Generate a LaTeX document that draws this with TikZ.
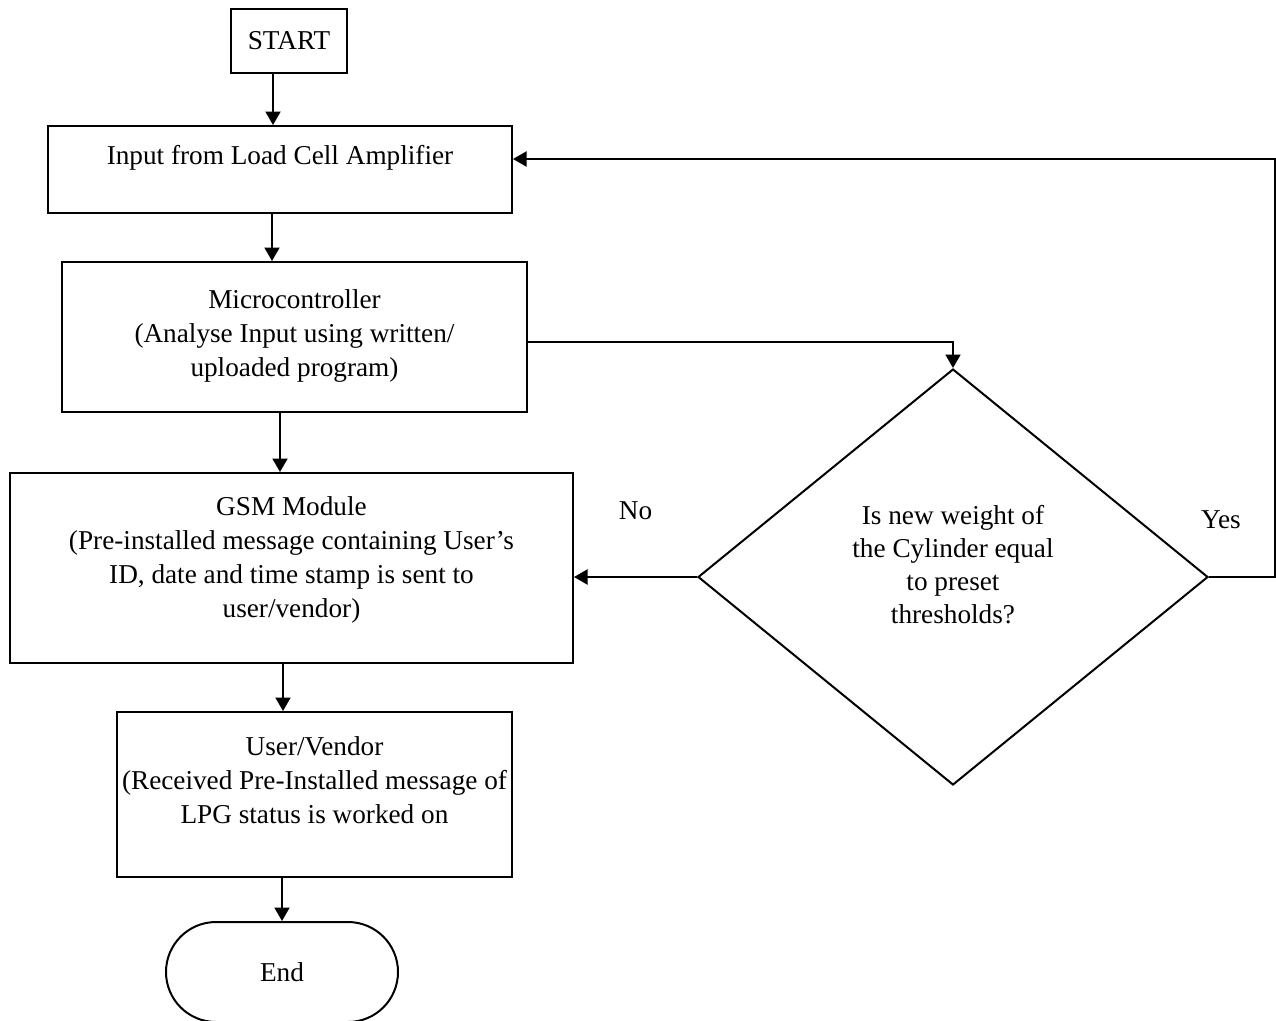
\documentclass[tikz,border=0pt]{standalone}
\usepackage{fontspec}
\setmainfont{Liberation Serif}
\usetikzlibrary{arrows.meta,shapes.geometric}

\begin{document}
\begin{tikzpicture}[>={Triangle[length=0.27cm,width=0.3cm]},line width=0.04cm,
        font=\fontsize{15.5}{19.2}\selectfont,
        block/.style={draw,rectangle,align=center,inner sep=0pt},
        decision/.style={draw,diamond,align=center,inner sep=0pt,minimum width=10.2cm,minimum height=8.32cm},
        stop/.style={draw,rectangle,rounded corners=1cm,minimum width=4.64cm,minimum height=2cm}]
    \useasboundingbox (0,0) rectangle (25.52,-20.4);
    \node[block,minimum width=2.32cm,minimum height=1.28cm](start)at(5.78,-0.82){START};
    \node[block,minimum width=9.28cm,text height=0.76cm,text depth=0.98cm](input)at(5.6,-3.39){Input from Load Cell Amplifier};
    \node[block,minimum width=9.3cm,text height=2.28cm,text depth=0.72cm](micro)at(5.89,-6.74){Microcontroller\\(Analyse Input using written/\\uploaded program)};
    \node[block,minimum width=11.26cm,text height=2.88cm,text depth=0.92cm](gsm)at(5.83,-11.36){GSM Module\\(Pre-installed message containing User’s\\ID, date and time stamp is sent to\\user/vendor)};
    \node[block,minimum width=7.9cm,text height=2.22cm,text depth=1.08cm](user)at(6.29,-15.89){User/Vendor\\(Received Pre-Installed message of\\LPG status is worked on};
    \node[stop](end)at(5.64,-19.44){End};
    \node[decision,text height=2.04cm,text depth=0.2cm,font=\fontsize{15.5}{18.6}\selectfont](check)at(19.06,-11.54){Is new weight of\\the Cylinder equal\\to preset\\thresholds?};
    \node(yes)at(24.42,-10.4){Yes};
    % connectors
    \draw[->]([xshift=-0.32cm]start.south) -- ([xshift=-0.32cm]start.south |- input.north);
    \draw[->]([xshift=-0.16cm]input.south) -- ([xshift=-0.16cm]input.south |- micro.north);
    \draw[->]([yshift=-0.1cm]micro.east) -| (check.north);
    \draw[->]([xshift=-0.29cm]micro.south) -- ([xshift=-0.29cm]micro.south |- gsm.north);
    \draw[->](check.west) -- node[yshift=1.32cm]{No} (check.west -| gsm.east);
    \draw[->](check.east) -- ++(1.32,0) |- ([yshift=0.21cm]input.east);
    \draw[->]([xshift=-0.17cm]gsm.south) -- ([xshift=-0.17cm]gsm.south |- user.north);
    \draw[->](user.south -| end.north) -- (end.north);
\end{tikzpicture}
\end{document}
